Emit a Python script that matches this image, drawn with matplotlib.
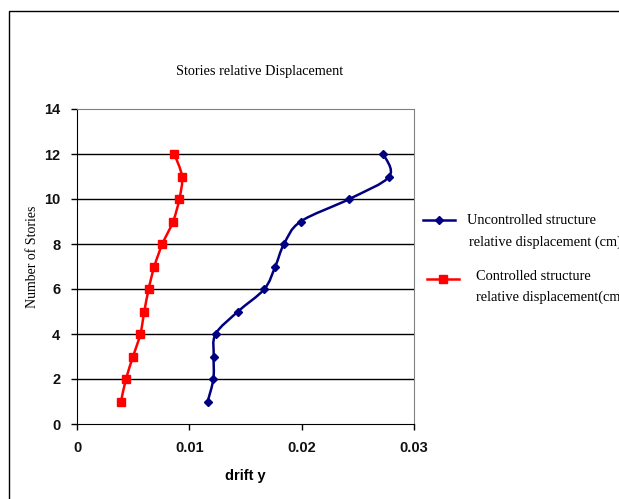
import matplotlib
matplotlib.use("Agg")
import matplotlib.pyplot as plt
import numpy as np
from matplotlib.path import Path
from matplotlib.patches import PathPatch, Rectangle
from matplotlib.lines import Line2D

# story numbers and drift values
stories = [1, 2, 3, 4, 5, 6, 7, 8, 9, 10, 11, 12]
uncontrolled = [0.01163, 0.01214, 0.01217, 0.01234, 0.01433, 0.01668,
                0.01765, 0.01843, 0.01991, 0.02424, 0.0278, 0.02727]
controlled = [0.00392, 0.00436, 0.00499, 0.00564, 0.00599, 0.00638,
              0.00688, 0.0076, 0.00855, 0.00911, 0.00935, 0.00866]

x_ticks = [0, 0.01, 0.02, 0.03]
x_tick_labels = ["0", "0.01", "0.02", "0.03"]
y_ticks = [0, 2, 4, 6, 8, 10, 12, 14]

serif = "Liberation Serif"
sans = "Liberation Sans"
W, H = 619, 499


def smooth_path(xs, ys):
    # excel style smoothed line: catmull-rom turned into bezier segments
    pts = np.column_stack([xs, ys])
    verts = [pts[0]]
    codes = [Path.MOVETO]
    n = len(pts)
    for i in range(n - 1):
        p0 = pts[i - 1] if i > 0 else pts[i]
        p1 = pts[i]
        p2 = pts[i + 1]
        p3 = pts[i + 2] if i + 2 < n else pts[i + 1]
        c1 = p1 + (p2 - p0) / 6.0
        c2 = p2 - (p3 - p1) / 6.0
        verts += [c1, c2, p2]
        codes += [Path.CURVE4] * 3
    return Path(verts, codes)


def fx(px):
    return px / W


def fy(py):
    return 1 - py / H


fig = plt.figure(figsize=(6.19, 4.99), dpi=100)
ax = fig.add_axes([fx(77), fy(424), 337 / W, 315 / H])

# outer chart border (runs off the right and bottom)
fig.patches.append(Rectangle((fx(9), -0.2), 2.0, 0.2 + fy(11),
                             transform=fig.transFigure, fill=False,
                             edgecolor="black", linewidth=1.0, zorder=0))

series = [(uncontrolled, "#000080", "D", 4),
          (controlled, "#FF0000", "s", 5.5)]
for xs, col, mk, ms in series:
    sc = np.array(xs) * 1000  # work in scaled units so the curve is even
    path = smooth_path(sc, np.array(stories, dtype=float))
    path = Path(np.column_stack([path.vertices[:, 0] / 1000, path.vertices[:, 1]]),
                path.codes)
    ax.add_patch(PathPatch(path, facecolor="none", edgecolor=col,
                           linewidth=1.8, zorder=3))
    ax.plot(xs, stories, linestyle="none", marker=mk, color=col,
            markersize=ms, zorder=4)

ax.set_xlim(0, 0.03)
ax.set_ylim(0, 14)
ax.set_xticks(x_ticks)
ax.set_xticklabels(x_tick_labels)
ax.set_yticks(y_ticks)
for y in y_ticks[1:-1]:
    ax.axhline(y, color="black", linewidth=1.0, zorder=1)

for s in ["top", "right"]:
    ax.spines[s].set_color("#808080")
for s in ["left", "bottom"]:
    ax.spines[s].set_color("black")
ax.tick_params(direction="out", length=4, width=1, color="black", pad=8)
for lab in ax.get_xticklabels() + ax.get_yticklabels():
    lab.set_fontfamily(sans)
    lab.set_fontweight("bold")
    lab.set_fontsize(10.5)
    lab.set_color("#111111")

ax.set_xlabel("drift y", fontfamily=sans, fontweight="bold", fontsize=10.5,
              labelpad=10)
fig.text(fx(32), fy(257), "Number of Stories", rotation=90,
         fontfamily=serif, fontsize=10, ha="center", va="center")
fig.text(fx(260), fy(72), "Stories relative Displacement",
         fontfamily=serif, fontsize=10.3, ha="center", va="center")

# legend, laid out by hand like the excel one (runs off the right edge)
legend_rows = [
    # handle x0, x1, y, text lines (x, y, string)
    (423, 455, 220, [(467, 221, "Uncontrolled structure"),
                     (469, 242, "relative displacement (cm)")]),
    (427, 459, 279, [(476, 276, "Controlled structure"),
                     (476, 297, "relative displacement(cm)")]),
]
for (xs, col, mk, ms), (x0, x1, yy, lines) in zip(series, legend_rows):
    fig.add_artist(Line2D([fx(x0), fx(x1)], [fy(yy), fy(yy)], color=col,
                          linewidth=1.8, transform=fig.transFigure))
    fig.add_artist(Line2D([fx((x0 + x1) / 2)], [fy(yy)], color=col, marker=mk,
                          markersize=ms, linestyle="none",
                          transform=fig.transFigure))
    for tx, ty, s in lines:
        fig.text(fx(tx), fy(ty), s, fontfamily=serif, fontsize=10.4,
                 ha="left", va="center")

fig.savefig("out.png", dpi=100)
